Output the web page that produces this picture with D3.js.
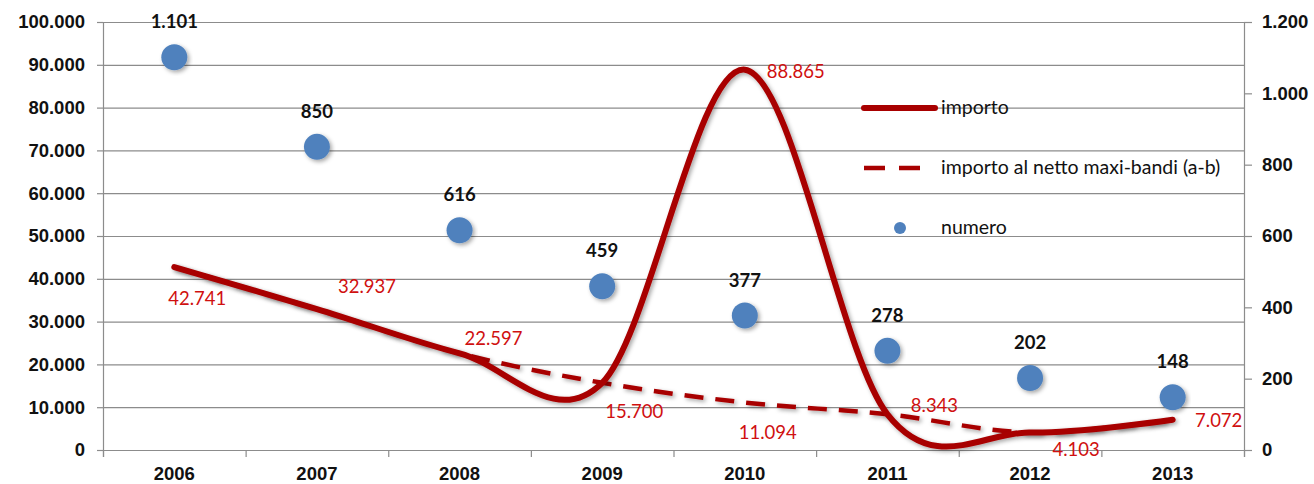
<!DOCTYPE html>
<html><head><meta charset="utf-8">
<script src="https://cdn.jsdelivr.net/npm/d3@7"></script>
<style>
body{margin:0;background:#fff}
svg{display:block;font-family:Lato,"Open Sans",sans-serif}
</style>
</head><body>
<svg id="c" width="1314" height="484"></svg>
<script>
// ---- data ----
const years = ["2006","2007","2008","2009","2010","2011","2012","2013"];
const importo = [42741, 32937, 22597, 15700, 88865, 8343, 4103, 7072];
const importoNetto = [42741, 32937, 22597, 15700, 11094, 8343, 4103, 7072];
const numero = [1101, 850, 616, 459, 377, 278, 202, 148];
const leftTicks = [0,10000,20000,30000,40000,50000,60000,70000,80000,90000,100000];
const rightTicks = [0,200,400,600,800,1000,1200];
const legendLabels = ["importo","importo al netto maxi-bandi (a-b)","numero"];

// ---- setup ----
const it = d3.formatLocale({decimal:",", thousands:".", grouping:[3], currency:["€",""]});
const fmt = it.format(",d");
const svg = d3.select("#c");
const L = 103, R = 1244, T = 22, B = 450;
const red = "#a80000", lblRed = "#d01010", blue = "#4f81bd", grid = "#8c8c8c";

const x = d3.scaleBand().domain(years).range([L, R]);
const xi = d3.scaleLinear().domain([0, years.length]).range([L, R]);
const y = d3.scaleLinear().domain([0, 100000]).range([B, T]);
const y2 = d3.scaleLinear().domain([0, 1200]).range([B, T]);
const cx = d => x(d) + x.bandwidth() / 2;

const defs = svg.append("defs");
const f = defs.append("filter").attr("id","sh").attr("x","-20%").attr("y","-20%").attr("width","140%").attr("height","140%");
f.append("feDropShadow").attr("dx",2).attr("dy",2).attr("stdDeviation",2).attr("flood-color","#000").attr("flood-opacity",0.35);

// gridlines
svg.append("g").attr("transform",`translate(${L},0)`)
  .call(d3.axisLeft(y).tickValues(leftTicks).tickSize(-(R - L)).tickFormat(""))
  .call(g => g.select(".domain").remove())
  .call(g => g.selectAll("line").attr("stroke", grid).attr("stroke-width",1.2));

// left axis
svg.append("g").attr("transform",`translate(${L},0)`)
  .call(d3.axisLeft(y).tickValues(leftTicks).tickSize(6).tickPadding(12).tickFormat(fmt))
  .call(g => g.select(".domain").attr("stroke", grid).attr("stroke-width",1.2))
  .call(g => g.selectAll("line").attr("stroke", grid).attr("stroke-width",1.2))
  .call(g => g.selectAll("text").attr("font-size",18.5).attr("font-weight","bold").attr("fill","#111"));

// right axis
svg.append("g").attr("transform",`translate(${R},0)`)
  .call(d3.axisRight(y2).tickValues(rightTicks).tickSize(8).tickPadding(10).tickFormat(fmt))
  .call(g => g.select(".domain").attr("stroke", grid).attr("stroke-width",1.2))
  .call(g => g.selectAll("line").attr("stroke", grid).attr("stroke-width",1.2))
  .call(g => g.selectAll("text").attr("font-size",18.5).attr("font-weight","bold").attr("fill","#111"));

// bottom axis: ticks at category boundaries
svg.append("g").attr("transform",`translate(0,${B})`)
  .call(d3.axisBottom(xi).tickValues(d3.range(years.length + 1)).tickSize(7).tickFormat(""))
  .call(g => g.select(".domain").attr("stroke", grid).attr("stroke-width",1.2))
  .call(g => g.selectAll("line").attr("stroke", grid).attr("stroke-width",1.2));
svg.append("g").attr("transform",`translate(0,${B})`)
  .call(d3.axisBottom(x).tickSize(0).tickPadding(17))
  .call(g => g.select(".domain").remove())
  .call(g => g.selectAll("text").attr("font-size",18.5).attr("font-weight","bold").attr("fill","#111"));

// lines
const curve = d3.curveCardinal.tension(0);
const line = d3.line().x((d,i) => cx(years[i])).y(d => y(d)).curve(curve);
svg.append("path").datum(importoNetto).attr("d", line)
  .attr("fill","none").attr("stroke", red).attr("stroke-width",4.5)
  .attr("stroke-dasharray","19,12").attr("filter","url(#sh)");
svg.append("path").datum(importo).attr("d", line)
  .attr("fill","none").attr("stroke", red).attr("stroke-width",6)
  .attr("stroke-linecap","round").attr("filter","url(#sh)");

// dots
svg.append("g").selectAll("circle").data(numero).join("circle")
  .attr("cx",(d,i) => cx(years[i])).attr("cy", d => y2(d)).attr("r",13)
  .attr("fill", blue).attr("filter","url(#sh)");
svg.append("g").selectAll("text").data(numero).join("text")
  .attr("x",(d,i) => cx(years[i])).attr("y", d => y2(d) - 29)
  .attr("text-anchor","middle").attr("font-size",18.5).attr("font-weight","bold").attr("fill","#111")
  .text(d => fmt(d));

// red data labels (placement offsets relative to the point)
const redLabels = [
  {s: importo, i: 0, dx: 23, dy: 38},
  {s: importo, i: 1, dx: 50, dy: -16},
  {s: importo, i: 2, dx: 34, dy: -8},
  {s: importoNetto, i: 3, dx: 32, dy: 35},
  {s: importo, i: 4, dx: 51, dy: 8},
  {s: importoNetto, i: 4, dx: 23, dy: 36},
  {s: importoNetto, i: 5, dx: 47, dy: -2},
  {s: importoNetto, i: 6, dx: 46, dy: 24},
  {s: importoNetto, i: 7, dx: 46, dy: 7}
];
svg.append("g").selectAll("text").data(redLabels).join("text")
  .attr("x", d => cx(years[d.i]) + d.dx).attr("y", d => y(d.s[d.i]) + d.dy)
  .attr("text-anchor","middle").attr("font-size",18.5).attr("fill", lblRed)
  .text(d => fmt(d.s[d.i]));

// legend
const lg = svg.append("g").attr("transform","translate(864,108)");
lg.append("line").attr("x1",0).attr("x2",71).attr("y1",0).attr("y2",0)
  .attr("stroke", red).attr("stroke-width",6).attr("stroke-linecap","round");
lg.append("line").attr("x1",0).attr("x2",57).attr("y1",60).attr("y2",60)
  .attr("stroke", red).attr("stroke-width",4.5).attr("stroke-dasharray","21,14");
lg.append("circle").attr("cx",36).attr("cy",120).attr("r",6).attr("fill", blue);
lg.selectAll("text").data(legendLabels).join("text")
  .attr("x",77).attr("y",(d,i) => i * 60 + 6)
  .attr("font-size",19.5).attr("fill","#111").text(d => d);
</script>
</body></html>
